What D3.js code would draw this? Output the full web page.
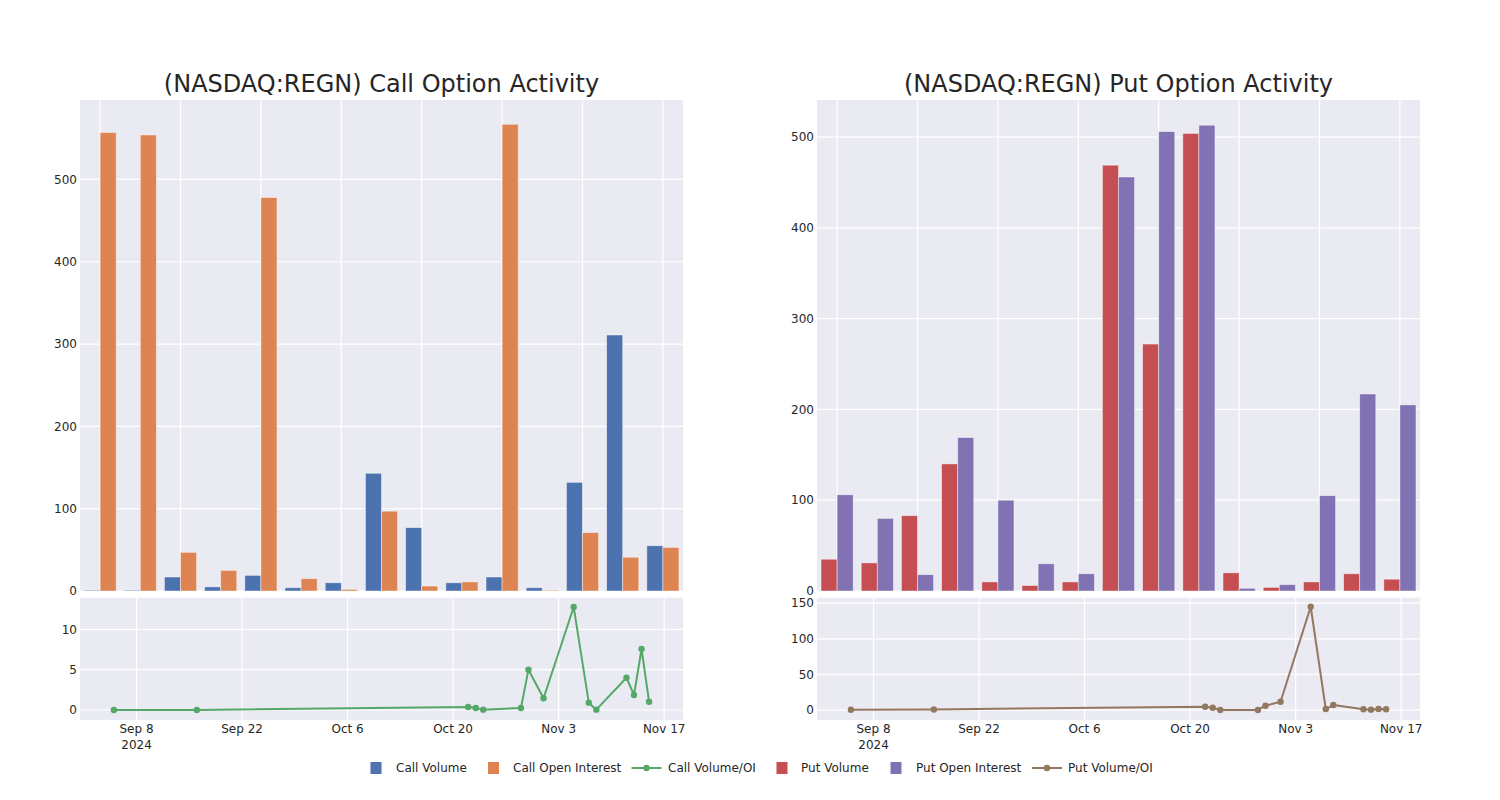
<!DOCTYPE html>
<html>
<head>
<meta charset="utf-8">
<script src="https://cdn.jsdelivr.net/npm/d3@7"></script>
<style>
  html, body { margin: 0; padding: 0; background: #ffffff; }
  svg { display: block; font-family: "DejaVu Sans", sans-serif; }
</style>
</head>
<body>
<svg id="chart" width="1500" height="800"></svg>
<script>
// ---------- data ----------
const dates = ["2024-09-05","2024-09-16","2024-10-22","2024-10-23","2024-10-24","2024-10-29","2024-10-30",
               "2024-11-01","2024-11-05","2024-11-07","2024-11-08","2024-11-12","2024-11-13","2024-11-14","2024-11-15"];
const callVolume       = [1, 1, 17, 5, 19, 4, 10, 143, 77, 10, 17, 4, 132, 311, 55];
const callOpenInterest = [557, 554, 47, 25, 478, 15, 2, 97, 6, 11, 567, 1, 71, 41, 53];
const callVolumeOI     = [0.0, 0.0, 0.37, 0.25, 0.04, 0.25, 5.0, 1.45, 12.76, 0.91, 0.04, 4.0, 1.86, 7.56, 1.03];
const putVolume        = [35, 31, 83, 140, 10, 6, 10, 469, 272, 504, 20, 4, 10, 19, 13];
const putOpenInterest  = [106, 80, 18, 169, 100, 30, 19, 456, 506, 513, 3, 7, 105, 217, 205];
const putVolumeOI      = [0.3, 0.8, 4.7, 3.3, 0.1, 0.1, 6.1, 11.7, 145, 1.4, 7.0, 1.0, 0.5, 1.4, 1.0];

const dateTicks      = ["2024-09-08","2024-09-22","2024-10-06","2024-10-20","2024-11-03","2024-11-17"];
const dateTickLabels = [["Sep 8","2024"],["Sep 22"],["Oct 6"],["Oct 20"],["Nov 3"],["Nov 17"]];
const barTicks       = [0, 100, 200, 300, 400, 500];
const callRatioTicks = [0, 5, 10];
const putRatioTicks  = [0, 50, 100, 150];

const seriesNames = ["Call Volume","Call Open Interest","Call Volume/OI","Put Volume","Put Open Interest","Put Volume/OI"];
const colors = {
  callVol: "#4C72B0", callOI: "#DD8452", callRatio: "#55A868",
  putVol: "#C44E52", putOI: "#8172B3", putRatio: "#937860"
};

// ---------- layout ----------
const svg = d3.select("#chart");
const parse = d3.timeParse("%Y-%m-%d");
const dayMs = 86400000;
const dateObjs = dates.map(parse);
const ext = d3.extent(dateObjs);
const timeDomain = [new Date(+ext[0] - 4.5 * dayMs), new Date(+ext[1] + 4.5 * dayMs)];

const topY = [100, 591];
const botY = [597.7, 720];
const textColor = "#262626";
const bg = "#EAEAF2";

function panel(cfg) {
  const g = svg.append("g");
  const [x0, x1] = cfg.xr;

  // ---------- top bar chart ----------
  g.append("rect").attr("x", x0).attr("y", topY[0]).attr("width", x1 - x0).attr("height", topY[1] - topY[0]).attr("fill", bg);

  const xb = d3.scaleBand().domain(d3.range(dates.length)).range([x0, x1]).paddingInner(0.2).paddingOuter(0.1);
  const xs = d3.scaleBand().domain([0, 1]).range([0, xb.bandwidth()]);
  const yb = d3.scaleLinear().domain([0, cfg.barMax]).range([topY[1], topY[0]]);

  // grid
  g.append("g").selectAll("line").data(barTicks).join("line")
    .attr("x1", x0).attr("x2", x1).attr("y1", d => yb(d)).attr("y2", d => yb(d))
    .attr("stroke", "#fff").attr("stroke-width", 1.2);
  g.append("g").selectAll("line").data(d3.range(0, dates.length, 2)).join("line")
    .attr("x1", d => xb(d) + xb.bandwidth() / 2).attr("x2", d => xb(d) + xb.bandwidth() / 2)
    .attr("y1", topY[0]).attr("y2", topY[1])
    .attr("stroke", "#fff").attr("stroke-width", 1.2);

  // y tick labels
  g.append("g").selectAll("text").data(barTicks).join("text")
    .attr("x", x0 - 3).attr("y", d => yb(d)).attr("dy", "0.35em")
    .attr("text-anchor", "end").attr("font-size", 12).attr("fill", textColor).text(d => d);

  // bars
  const barData = [];
  cfg.bars.forEach((s, si) => s.values.forEach((v, i) => barData.push({ i, si, v, color: s.color })));
  g.append("g").selectAll("rect").data(barData).join("rect")
    .attr("x", d => xb(d.i) + xs(d.si))
    .attr("width", xs.bandwidth())
    .attr("y", d => yb(d.v))
    .attr("height", d => yb(0) - yb(d.v))
    .attr("fill", d => d.color)
    .attr("stroke", "#ffffff").attr("stroke-opacity", 0.55).attr("stroke-width", 0.8);

  // title
  g.append("text").attr("x", (x0 + x1) / 2).attr("y", 91.7).attr("text-anchor", "middle")
    .attr("font-size", 24).attr("fill", textColor).text(cfg.title);

  // ---------- bottom line chart ----------
  g.append("rect").attr("x", x0).attr("y", botY[0]).attr("width", x1 - x0).attr("height", botY[1] - botY[0]).attr("fill", bg);
  const xt = d3.scaleTime().domain(timeDomain).range([x0, x1]);
  const yl = d3.scaleLinear().domain(cfg.lineDomain).range([botY[1], botY[0]]);

  g.append("g").selectAll("line").data(cfg.lineTicks).join("line")
    .attr("x1", x0).attr("x2", x1).attr("y1", d => yl(d)).attr("y2", d => yl(d))
    .attr("stroke", "#fff").attr("stroke-width", 1.2);
  const tickDates = dateTicks.map(parse);
  g.append("g").selectAll("line").data(tickDates).join("line")
    .attr("x1", d => xt(d)).attr("x2", d => xt(d)).attr("y1", botY[0]).attr("y2", botY[1])
    .attr("stroke", "#fff").attr("stroke-width", 1.2);

  g.append("g").selectAll("text").data(cfg.lineTicks).join("text")
    .attr("x", x0 - 3).attr("y", d => yl(d)).attr("dy", "0.35em")
    .attr("text-anchor", "end").attr("font-size", 12).attr("fill", textColor).text(d => d);

  const xl = g.append("g").selectAll("text").data(tickDates).join("text")
    .attr("x", d => xt(d)).attr("y", 733).attr("text-anchor", "middle")
    .attr("font-size", 12).attr("fill", textColor);
  xl.each(function(d, i) {
    const t = d3.select(this);
    dateTickLabels[i].forEach((s, k) => {
      t.append("tspan").attr("x", xt(d)).attr("dy", k === 0 ? 0 : 15.5).text(s);
    });
  });

  const pts = dateObjs.map((d, i) => ({ d, v: cfg.line[i] }));
  g.append("path").datum(pts)
    .attr("fill", "none").attr("stroke", cfg.lineColor).attr("stroke-width", 2).attr("stroke-linejoin", "round")
    .attr("d", d3.line().x(p => xt(p.d)).y(p => yl(p.v)));
  g.append("g").selectAll("circle").data(pts).join("circle")
    .attr("cx", p => xt(p.d)).attr("cy", p => yl(p.v)).attr("r", 3.2).attr("fill", cfg.lineColor);
}

panel({
  xr: [80, 683],
  title: "(NASDAQ:REGN) Call Option Activity",
  barMax: 596.5,
  bars: [{ values: callVolume, color: colors.callVol }, { values: callOpenInterest, color: colors.callOI }],
  line: callVolumeOI, lineColor: colors.callRatio,
  lineDomain: [-1.24, 13.92], lineTicks: callRatioTicks
});
panel({
  xr: [817, 1420],
  title: "(NASDAQ:REGN) Put Option Activity",
  barMax: 540.8,
  bars: [{ values: putVolume, color: colors.putVol }, { values: putOpenInterest, color: colors.putOI }],
  line: putVolumeOI, lineColor: colors.putRatio,
  lineDomain: [-14, 157.7], lineTicks: putRatioTicks
});

// ---------- legend ----------
const legendItems = [
  { name: seriesNames[0], type: "rect", color: colors.callVol, mx: 376, tx: 396 },
  { name: seriesNames[1], type: "rect", color: colors.callOI, mx: 493.5, tx: 513 },
  { name: seriesNames[2], type: "line", color: colors.callRatio, mx: 646.5, tx: 668 },
  { name: seriesNames[3], type: "rect", color: colors.putVol, mx: 782, tx: 801 },
  { name: seriesNames[4], type: "rect", color: colors.putOI, mx: 896, tx: 916 },
  { name: seriesNames[5], type: "line", color: colors.putRatio, mx: 1047, tx: 1068 }
];
const lg = svg.append("g");
const ly = 768;
legendItems.forEach(it => {
  if (it.type === "rect") {
    lg.append("rect").attr("x", it.mx - 5.5).attr("y", ly - 6).attr("width", 11).attr("height", 12).attr("fill", it.color);
  } else {
    lg.append("line").attr("x1", it.mx - 15).attr("x2", it.mx + 15).attr("y1", ly).attr("y2", ly)
      .attr("stroke", it.color).attr("stroke-width", 2);
    lg.append("circle").attr("cx", it.mx).attr("cy", ly).attr("r", 3.2).attr("fill", it.color);
  }
  lg.append("text").attr("x", it.tx).attr("y", ly).attr("dy", "0.35em")
    .attr("font-size", 12).attr("fill", textColor).text(it.name);
});
</script>
</body>
</html>
